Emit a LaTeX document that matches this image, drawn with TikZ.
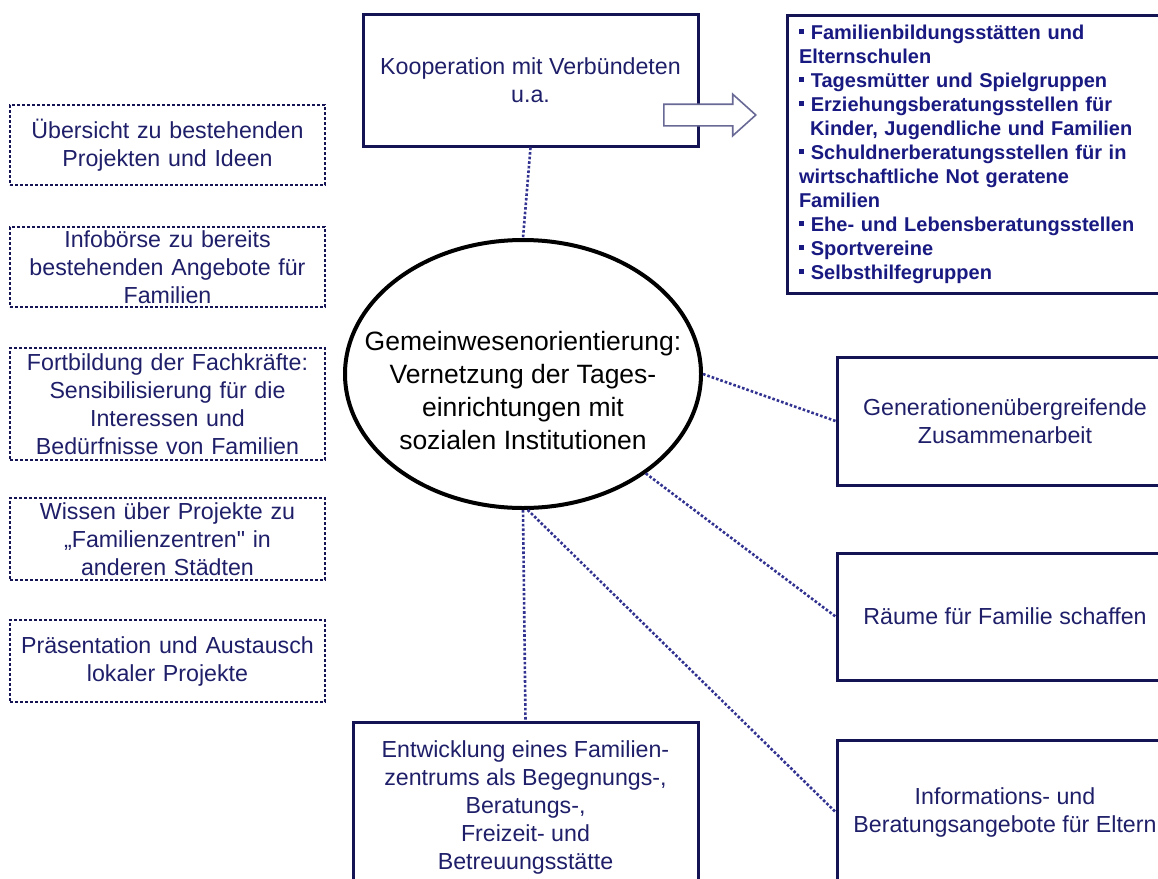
\documentclass[tikz,border=0pt]{standalone}
\usepackage{fontspec}
\setmainfont{Liberation Sans}[Ligatures=TeXOff]
\usetikzlibrary{shapes,arrows,positioning}

\definecolor{navytext}{RGB}{30,30,105}
\definecolor{navyline}{RGB}{20,20,85}
\definecolor{listblue}{RGB}{25,25,130}
\definecolor{dotblue}{RGB}{50,50,145}
\definecolor{arrowgray}{RGB}{105,105,150}
\newcommand{\sqbul}{\raisebox{0.26em}{\rule{0.26em}{0.26em}}}

\begin{document}
\begin{tikzpicture}[x=1pt,y=-1pt,align=center,font=\fontsize{23.2}{28}\selectfont,
    solid box/.style={rectangle,draw=navyline,line width=3pt,text=navytext,inner sep=0pt},
    dot box/.style={rectangle,draw=navyline,line width=2.8pt,dash pattern=on 2.8pt off 2.2pt,text=navytext,text width=305pt,inner xsep=5pt,inner ysep=0pt,minimum width=315pt},
    link/.style={draw=dotblue,line width=2.6pt,dash pattern=on 2.6pt off 2pt}]
  \useasboundingbox (0,0) rectangle (1158,878);
  \clip (0,0) rectangle (1158,878);

  \node[ellipse,draw=black,line width=4pt,inner xsep=-40pt,inner ysep=0pt,minimum width=356pt,minimum height=268pt,font=\fontsize{26.5}{33}\selectfont] (hub) at (523,374) {\rule{0pt}{19pt}\\Gemeinwesenorientierung:\\Vernetzung der Tages-\\einrichtungen mit\\sozialen Institutionen};

  \node[solid box,minimum width=335pt,minimum height=132pt] (koop) at (530.5,80) {Kooperation mit Verbündeten\\u.a.};
  \node[solid box,text width=364pt,inner xsep=12pt,minimum height=278pt,align=left,text=listblue,font=\fontsize{20}{24}\selectfont\bfseries] (list) at (981,154) {\sqbul{} Familienbildungsstätten und\\
    Elternschulen\\
    \sqbul{} Tagesmütter und Spielgruppen\\
    \sqbul{} Erziehungsberatungsstellen für\\
    \hspace*{11pt}Kinder, Jugendliche und Familien\\
    \sqbul{} Schuldnerberatungsstellen für in\\
    wirtschaftliche Not geratene\\
    Familien\\
    \sqbul{} Ehe- und Lebensberatungsstellen\\
    \sqbul{} Sportvereine\\
    \sqbul{} Selbsthilfegruppen};
  \node[single arrow,draw=arrowgray,fill=white,line width=1.6pt,inner xsep=0pt,inner ysep=10pt,single arrow head extend=10pt,single arrow tip angle=84,minimum height=92pt,anchor=tip] (arr) at (757,115) {};

  % left column
  \node[dot box,minimum height=80pt] (over) at (167.5,145) {Übersicht zu bestehenden\\Projekten und Ideen};
  \node[dot box,minimum height=80pt,below=39.2pt of over] (boerse) {Infobörse zu bereits\\bestehenden Angebote für\\Familien};
  \node[dot box,minimum height=112pt,below=38.2pt of boerse] (fortb) {Fortbildung der Fachkräfte:\\Sensibilisierung für die\\Interessen und\\Bedürfnisse von Familien};
  \node[dot box,minimum height=82pt,below=35.2pt of fortb] (wissen) {Wissen über Projekte zu\\„Familienzentren" in\\anderen Städten};
  \node[dot box,minimum height=82pt,below=37.2pt of wissen] (praes) {Präsentation und Austausch\\lokaler Projekte};

  % right column
  \node[solid box,minimum width=336pt,minimum height=128pt] (gen) at (1005,421) {Generationenübergreifende\\Zusammenarbeit};
  \node[solid box,minimum width=336pt,minimum height=127pt,below=65pt of gen] (raum) {Räume für Familie schaffen};
  \node[solid box,minimum width=336pt,minimum height=144pt,below=57pt of raum] (eltern) {Informations- und\\Beratungsangebote für Eltern};

  % bottom
  \node[solid box,minimum width=345pt,minimum height=170pt] (dev) at (525.5,807) {Entwicklung eines Familien-\\zentrums als Begegnungs-,\\Beratungs-,\\Freizeit- und\\Betreuungsstätte};

  \path[link] (koop.south) -- (hub.north);
  \path[link] (hub.east) -- (gen.west);
  \path[link] (hub.-39.5) -- (raum.west);
  \path[link] (hub.-88) -- (eltern.west);
  \path[link] (hub.south) -- (dev.north);
\end{tikzpicture}
\end{document}
